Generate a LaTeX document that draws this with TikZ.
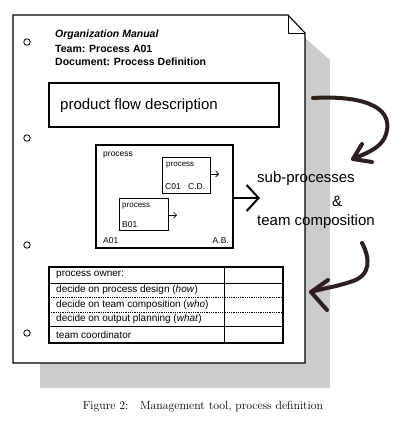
\documentclass[tikz,border=0pt]{standalone}
\usepackage{fontspec}
\setmainfont{Liberation Sans}
\newfontfamily\capfont{Latin Modern Roman}
\usetikzlibrary{arrows.meta}
\definecolor{shadowgray}{rgb}{0.80,0.80,0.80}
\definecolor{marker}{rgb}{0.18,0.12,0.12}
\tikzset{
  hdr/.style={anchor=west,inner sep=0pt,font=\fontsize{10.5}{12}\selectfont\bfseries},
  big/.style={anchor=west,inner sep=0pt,font=\fontsize{15}{17}\selectfont},
  small/.style={anchor=west,inner sep=0pt,font=\fontsize{8.5}{10}\selectfont},
  tiny/.style={anchor=west,inner sep=0pt,font=\fontsize{8}{9}\selectfont},
  cell/.style={anchor=west,inner sep=0pt,font=\fontsize{10}{11}\selectfont},
  hole/.style={draw,circle,minimum size=6.5pt,inner sep=0pt,line width=0.8pt},
  thickbox/.style={draw,line width=2.2pt},
  thinbox/.style={draw,line width=0.8pt},
  pen/.style={draw=marker,line width=4pt,line cap=round,line join=round},
}
\begin{document}
\begin{tikzpicture}[x=1pt,y=-1pt]
\useasboundingbox (0,0) rectangle (400,423);
% shadow
\fill[shadowgray] (305,38) -- (330,60) -- (330,388) -- (40,388) -- (40,363) -- (305,363) -- cycle;
% page
\draw[fill=white,line width=1.1pt] (13,15) -- (288,15) -- (305,33) -- (305,363) -- (13,363) -- cycle;
\draw[line width=0.9pt] (288,15) -- (288,33) -- (305,33);
% holes
\node[hole] (h1) at (27,42) {};
\node[hole] (h2) at (27,138) {};
\node[hole] (h3) at (27,245) {};
\node[hole] (h4) at (27,333) {};
% header
\node[hdr,font=\fontsize{10.5}{12}\selectfont\bfseries\itshape] (t1) at (55,35) {Organization Manual};
\node[hdr] (t2) at (55,48.5) {Team: Process A01};
\node[hdr] (t3) at (55,62) {Document: Process Definition};
% product flow
\draw[thickbox] (49,83) rectangle (279,127);
\node[big] (pf) at (60,106) {product flow description};
% process box
\draw[thickbox,line width=2pt] (96,145) rectangle (233,248);
\node[small] (pA) at (103,155) {process};
\node[small] (a01) at (103,241) {A01};
\node[small,anchor=east] (ab) at (229,241) {A.B.};
\draw[thinbox] (162,157) rectangle (210,193);
\node[tiny] (pC) at (166,165) {process};
\node[small] (c01) at (165,187) {C01};
\node[small] (cd) at (188,187) {C.D.};
\coordinate (cs) at (210,174);
\coordinate (ce) at (219,174);
\draw[line width=0.7pt,-{Straight Barb[length=3pt,width=6pt]}] (cs) -- (ce);
\draw[thinbox] (119,198) rectangle (168,230);
\node[tiny] (pB) at (122,206) {process};
\node[small] (b01) at (122,225) {B01};
\coordinate (bs) at (168,215);
\coordinate (be) at (177,215);
\draw[line width=0.7pt,-{Straight Barb[length=3pt,width=6pt]}] (bs) -- (be);
\coordinate (as) at (233,198);
\coordinate (ae) at (260,198);
\draw[line width=2pt,-{Straight Barb[length=12pt,width=26pt,line width=2pt]}] (as) -- (ae);
% sub-processes
\node[big] (sp) at (257,179) {sub-processes};
\node[big] (amp) at (332,201) {\&};
\node[big] (tc) at (257,222) {team composition};
% table
\draw[thickbox,line width=2pt] (49,267) rectangle (283,343);
\draw[line width=0.9pt] (224,267) -- (224,343);
\draw[line width=0.9pt] (49,283) -- (283,283);
\draw[line width=0.8pt,densely dotted] (49,297.5) -- (283,297.5);
\draw[line width=0.8pt,densely dotted] (49,312) -- (283,312);
\draw[line width=0.9pt] (49,326.5) -- (283,326.5);
\node[cell] (r1) at (56,275) {process owner:};
\node[cell] (r2) at (56,290) {decide on process design (\textit{how})};
\node[cell] (r3) at (56,304.5) {decide on team composition (\textit{who})};
\node[cell] (r4) at (56,319) {decide on output planning (\textit{what})};
\node[cell] (r5) at (56,334.5) {team coordinator};
% hand-drawn arrows
\coordinate (m1s) at (313,98);
\coordinate (m1e) at (353,159);
\draw[pen] (m1s) .. controls (345,96) and (392,100) .. (387,130) .. controls (384,148) and (368,152) .. (m1e);
\draw[pen] (362,144) -- (m1e) -- (372,162);
\coordinate (m2s) at (362,243);
\coordinate (m2e) at (311,292);
\draw[pen] (m2s) .. controls (370,258) and (372,276) .. (350,282) .. controls (335,287) and (320,289) .. (m2e);
\draw[pen] (328,280) -- (m2e) -- (327,310);
% caption
\node[inner sep=0pt,font=\capfont\fontsize{11.8}{14}\selectfont] (cap) at (203,407) {Figure 2:\hspace{1em}Management tool, process definition};
\end{tikzpicture}
\end{document}
